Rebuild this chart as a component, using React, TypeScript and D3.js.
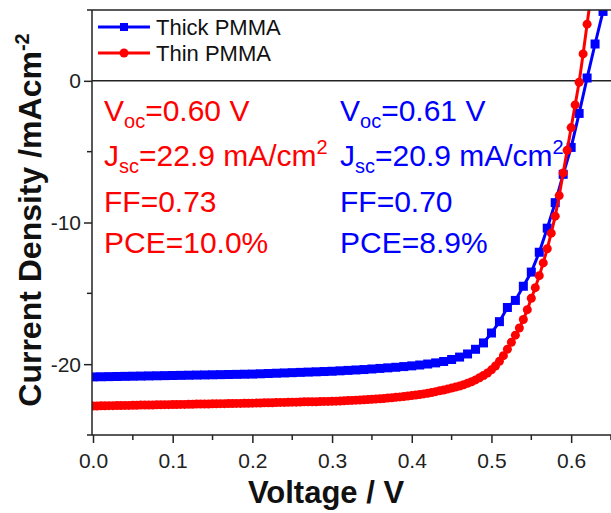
import { useEffect, useRef } from 'react';
import * as d3 from 'd3';

// Thick PMMA, 10 mV steps from 0 V
const thickStep = 0.01;
const thickJ = [
  -20.90, -20.89, -20.88, -20.87, -20.86, -20.85, -20.84, -20.83, -20.82, -20.81,
  -20.80, -20.79, -20.78, -20.77, -20.76, -20.75, -20.74, -20.73, -20.72, -20.71,
  -20.70, -20.68, -20.66, -20.64, -20.62, -20.60, -20.58, -20.56, -20.54, -20.52,
  -20.50, -20.47, -20.44, -20.41, -20.38, -20.34, -20.30, -20.26, -20.22, -20.17,
  -20.12, -20.06, -19.99, -19.91, -19.81, -19.67, -19.50, -19.28, -18.95, -18.50,
  -17.80, -17.00, -16.00, -15.50, -14.50, -13.50, -12.10, -10.40, -8.60, -6.60,
  -4.70, -2.30, 0.20, 2.60, 4.90, 7.20,
];

// Thin PMMA, 5 mV steps from 0 V
const thinStep = 0.005;
const thinJ = [
  -22.95, -22.95, -22.94, -22.94, -22.93, -22.93, -22.92, -22.92, -22.91, -22.91,
  -22.90, -22.90, -22.89, -22.89, -22.88, -22.88, -22.87, -22.87, -22.86, -22.86,
  -22.85, -22.85, -22.84, -22.84, -22.83, -22.83, -22.82, -22.82, -22.81, -22.81,
  -22.80, -22.80, -22.79, -22.79, -22.78, -22.78, -22.77, -22.77, -22.76, -22.76,
  -22.75, -22.74, -22.74, -22.73, -22.72, -22.72, -22.71, -22.70, -22.70, -22.69,
  -22.68, -22.68, -22.67, -22.66, -22.66, -22.65, -22.65, -22.64, -22.63, -22.63,
  -22.62, -22.61, -22.60, -22.58, -22.57, -22.56, -22.54, -22.53, -22.51, -22.50,
  -22.48, -22.46, -22.44, -22.42, -22.39, -22.37, -22.34, -22.31, -22.28, -22.25,
  -22.22, -22.18, -22.14, -22.10, -22.05, -22.00, -21.94, -21.88, -21.82, -21.76,
  -21.69, -21.62, -21.54, -21.45, -21.35, -21.24, -21.11, -20.96, -20.80, -20.62,
  -20.40, -20.13, -19.80, -19.40, -18.95, -18.45, -17.95, -17.45, -16.85, -16.15,
  -15.35, -14.60, -13.75, -12.85, -11.85, -10.75, -9.55, -8.10, -6.50, -4.90,
  -3.30, -1.70, -0.10, 1.90, 4.00, 6.10,
];

const xTicks = [0, 0.1, 0.2, 0.3, 0.4, 0.5, 0.6];
const xMinor = [0.05, 0.15, 0.25, 0.35, 0.45, 0.55, 0.65];
const yTicks = [0, -10, -20];
const yMinor = [5, -5, -15, -25];

const redNotes = [
  ['V', 'oc', '=0.60 V', ''],
  ['J', 'sc', '=22.9 mA/cm', '2'],
  ['FF=0.73', '', '', ''],
  ['PCE=10.0%', '', '', ''],
];
const blueNotes = [
  ['V', 'oc', '=0.61 V', ''],
  ['J', 'sc', '=20.9 mA/cm', '2'],
  ['FF=0.70', '', '', ''],
  ['PCE=8.9%', '', '', ''],
];

const BLUE = '#0000ff';
const RED = '#ff0000';
const FONT = '"Liberation Sans", Arial, sans-serif';

export default function App() {
  const svgRef = useRef<SVGSVGElement>(null);

  useEffect(() => {
    const svg = d3.select(svgRef.current);
    svg.selectAll('*').remove();

    const left = 92, top = 10, right = 611, bottom = 435;
    const x = d3.scaleLinear().domain([0, 0.65]).range([93, 611]);
    const y = d3.scaleLinear().domain([-25, 5]).range([bottom, top]);

    svg.append('rect').attr('width', 611).attr('height', 513).attr('fill', '#fff');

    svg.append('defs').append('clipPath').attr('id', 'plot-clip')
      .append('rect').attr('x', left).attr('y', top)
      .attr('width', right - left).attr('height', bottom - top);

    // axis titles (drawn first so tick labels sit on top)
    svg.append('text')
      .attr('x', 326).attr('y', 503)
      .attr('text-anchor', 'middle').attr('font-family', FONT)
      .attr('font-size', 31).attr('font-weight', 'bold').attr('fill', '#111')
      .text('Voltage / V');

    const yt = svg.append('text')
      .attr('transform', `translate(41,220) rotate(-90)`)
      .attr('text-anchor', 'middle').attr('font-family', FONT)
      .attr('font-size', 32).attr('font-weight', 'bold').attr('fill', '#111');
    yt.append('tspan').text('Current Density /mAcm');
    yt.append('tspan').attr('font-size', 20).attr('dy', -12).text('-2');

    // zero line
    svg.append('line')
      .attr('x1', left).attr('x2', right)
      .attr('y1', y(0)).attr('y2', y(0))
      .attr('stroke', '#222').attr('stroke-width', 1.5);

    const thick = thickJ.map((j, i) => [i * thickStep, j] as [number, number]);
    const thin = thinJ.map((j, i) => [i * thinStep, j] as [number, number]);

    const line = d3.line<[number, number]>().x(d => x(d[0])).y(d => y(d[1]));
    const g = svg.append('g').attr('clip-path', 'url(#plot-clip)');

    g.append('path').datum(thick).attr('d', line)
      .attr('fill', 'none').attr('stroke', BLUE).attr('stroke-width', 3);
    g.selectAll('.sq').data(thick).enter().append('rect')
      .attr('x', d => x(d[0]) - 4.5).attr('y', d => y(d[1]) - 4.5)
      .attr('width', 9).attr('height', 9).attr('fill', BLUE);

    g.append('path').datum(thin).attr('d', line)
      .attr('fill', 'none').attr('stroke', RED).attr('stroke-width', 3);
    g.selectAll('.dot').data(thin).enter().append('circle')
      .attr('cx', d => x(d[0])).attr('cy', d => y(d[1]))
      .attr('r', 4.5).attr('fill', RED);

    // frame
    svg.append('line').attr('x1', left).attr('x2', right + 2).attr('y1', top).attr('y2', top)
      .attr('stroke', '#222').attr('stroke-width', 1.5);

    const xAxis = svg.append('g').attr('transform', `translate(0,${bottom})`)
      .call(d3.axisBottom(x).tickValues(xTicks).tickSize(8).tickFormat(d3.format('.1f')));
    xAxis.append('g').selectAll('line')
      .data(xMinor).enter().append('line')
      .attr('x1', d => x(d)).attr('x2', d => x(d)).attr('y1', 0).attr('y2', 5)
      .attr('stroke', '#222').attr('stroke-width', 1.5);
    xAxis.select('.domain').attr('d', `M${left},0H${right + 2}`);

    const yAxis = svg.append('g').attr('transform', `translate(${left},0)`)
      .call(d3.axisLeft(y).tickValues(yTicks).tickSize(8).tickFormat(() => ''));
    yAxis.append('g').selectAll('line')
      .data(yMinor).enter().append('line')
      .attr('x1', 0).attr('x2', -5).attr('y1', d => y(d)).attr('y2', d => y(d))
      .attr('stroke', '#222').attr('stroke-width', 1.5);
    yAxis.select('.domain').attr('d', `M0,${top}V${bottom}`);
    yAxis.selectAll('.ylab').data(yTicks).enter().append('text')
      .attr('x', -11).attr('y', d => y(d) + 7.5)
      .attr('text-anchor', 'end').attr('font-family', FONT)
      .attr('font-size', 21).attr('fill', '#222')
      .text(d => (d < 0 ? '-' + Math.abs(d) : String(d)));

    [xAxis, yAxis].forEach(a => {
      a.select('.domain').attr('stroke', '#222').attr('stroke-width', 1.5);
      a.selectAll('.tick line').attr('stroke', '#222').attr('stroke-width', 1.5);
    });
    xAxis.selectAll('.tick text').attr('font-family', FONT).attr('font-size', 21)
      .attr('fill', '#222').attr('dy', null).attr('y', 33);

    // legend
    const legend = [
      { name: 'Thick PMMA', color: BLUE, shape: 'square', cy: 27 },
      { name: 'Thin PMMA', color: RED, shape: 'circle', cy: 53 },
    ];
    legend.forEach(l => {
      svg.append('line').attr('x1', 98).attr('x2', 150).attr('y1', l.cy).attr('y2', l.cy)
        .attr('stroke', l.color).attr('stroke-width', 3);
      if (l.shape === 'square') {
        svg.append('rect').attr('x', 120).attr('y', l.cy - 4).attr('width', 8).attr('height', 8).attr('fill', l.color);
      } else {
        svg.append('circle').attr('cx', 124).attr('cy', l.cy).attr('r', 4.5).attr('fill', l.color);
      }
      svg.append('text').attr('x', 156).attr('y', l.cy + 7.5)
        .attr('font-family', FONT).attr('font-size', 22).attr('fill', '#111').text(l.name);
    });

    // annotations
    const baselines = [121, 166, 212, 253];
    const drawNotes = (notes: string[][], x0: number, color: string) => {
      notes.forEach((n, i) => {
        const t = svg.append('text').attr('x', x0).attr('y', baselines[i])
          .attr('font-family', FONT).attr('font-size', 30).attr('fill', color);
        t.append('tspan').text(n[0]);
        if (n[1]) {
          t.append('tspan').attr('font-size', 20).attr('dy', 7).text(n[1]);
          t.append('tspan').attr('dy', -7).text(n[2]);
        }
        if (n[3]) t.append('tspan').attr('font-size', 20).attr('dy', -12).text(n[3]);
      });
    };
    drawNotes(redNotes, 104, RED);
    drawNotes(blueNotes, 340, BLUE);
  }, []);

  return (
    <svg ref={svgRef} width={611} height={513}
      style={{ position: 'absolute', left: 0, top: 0, display: 'block' }} />
  );
}
